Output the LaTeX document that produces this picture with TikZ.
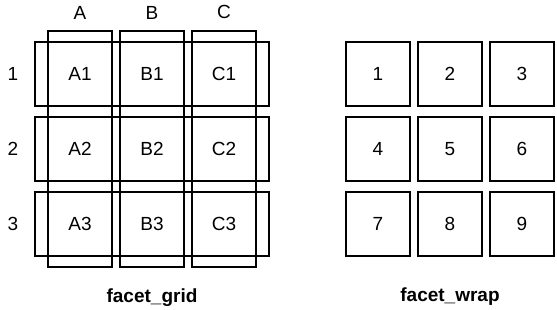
\documentclass[tikz,border=0pt]{standalone}
\usepackage{fontspec}
\setmainfont{Liberation Sans}
\usetikzlibrary{positioning,fit}

\begin{document}
\begin{tikzpicture}[
        x=1pt, y=-1pt,
        node distance=11pt and 8pt,
        every node/.style={font=\fontsize{19}{21}\selectfont},
        cell/.style={minimum size=64pt, inner sep=0pt, outer sep=0pt},
        panel/.style={cell, draw, line width=1.4pt},
        strip/.style={draw, line width=1.4pt, inner sep=0pt},
        lbl/.style={inner sep=0pt},
        title/.style={inner sep=0pt, font=\fontsize{19}{21}\selectfont\bfseries},
    ]
        \useasboundingbox (0,0) rectangle (557,310);
        % facet_grid
        \node[cell] (A1) at (80,74) {A1};
        \node[cell, right=of A1] (B1) {B1};
        \node[cell, right=of B1] (C1) {C1};
        \node[cell, below=of A1] (A2) {A2};
        \node[cell, right=of A2] (B2) {B2};
        \node[cell, right=of B2] (C2) {C2};
        \node[cell, below=of A2] (A3) {A3};
        \node[cell, right=of A3] (B3) {B3};
        \node[cell, right=of B3] (C3) {C3};
        \node[strip, fit=(A1)(A3), inner ysep=11pt] (colA) {};
        \node[strip, fit=(B1)(B3), inner ysep=11pt] (colB) {};
        \node[strip, fit=(C1)(C3), inner ysep=11pt] (colC) {};
        \node[strip, fit=(A1)(C1), inner xsep=13pt] (row1) {};
        \node[strip, fit=(A2)(C2), inner xsep=13pt] (row2) {};
        \node[strip, fit=(A3)(C3), inner xsep=13pt] (row3) {};
        \node[lbl, above=11pt of colA] (labA) {A};
        \node[lbl, above=11pt of colB] (labB) {B};
        \node[lbl, above=11pt of colC] (labC) {C};
        \node[lbl, left=16pt of row1] (lab1) {1};
        \node[lbl, left=16pt of row2] (lab2) {2};
        \node[lbl, left=16pt of row3] (lab3) {3};
        \node[title, below=21pt of colB] (grid) {facet\_grid};
        % facet_wrap
        \node[panel] (w1) at (378,74) {1};
        \node[panel, right=of w1] (w2) {2};
        \node[panel, right=of w2] (w3) {3};
        \node[panel, below=of w1] (w4) {4};
        \node[panel, right=of w4] (w5) {5};
        \node[panel, right=of w5] (w6) {6};
        \node[panel, below=of w4] (w7) {7};
        \node[panel, right=of w7] (w8) {8};
        \node[panel, right=of w8] (w9) {9};
        \node[title, below=32pt of w8] (wrap) {facet\_wrap};
    \end{tikzpicture}
\end{document}
